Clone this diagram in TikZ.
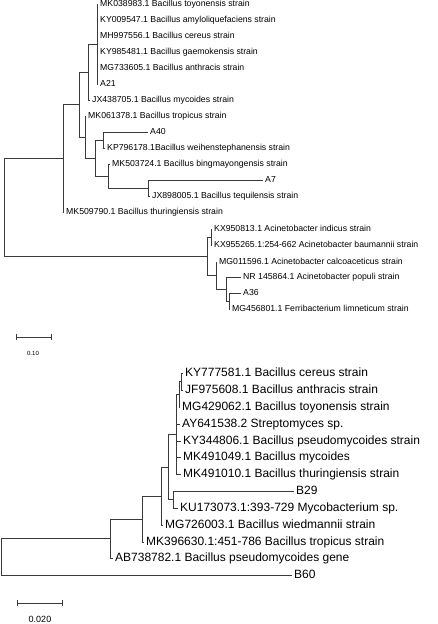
\documentclass[tikz,border=0pt]{standalone}
\usepackage{fontspec}
\setmainfont{Liberation Sans}
\usetikzlibrary{arrows.meta}
\definecolor{treeline}{HTML}{3A3A3A}
\tikzset{
  branch/.style={draw=treeline,line width=0.6pt},
  taxon/.style={anchor=west,inner xsep=2pt,inner ysep=0pt,text height=6.3pt,
    text depth=1.8pt,font=\fontsize{8.7}{10}\selectfont},
  bigtaxon/.style={anchor=west,inner xsep=2pt,inner ysep=0pt,text height=8.7pt,
    text depth=2.5pt,font=\fontsize{12}{14}\selectfont},
  scalebar/.style={{Bar[width=6pt]}-{Bar[width=6pt]},draw=treeline,line width=0.6pt},
}
\begin{document}
\begin{tikzpicture}[x=1pt,y=-1pt]
  \useasboundingbox (0,0) rectangle (438,624);
  % upper tree
  \node[taxon] (t1) at (98,4) {MK038983.1 Bacillus toyonensis strain};
  \node[taxon] (t2) at (98,20) {KY009547.1 Bacillus amyloliquefaciens strain};
  \node[taxon] (t3) at (98,36) {MH997556.1 Bacillus cereus strain};
  \node[taxon] (t4) at (98,52) {KY985481.1 Bacillus gaemokensis strain};
  \node[taxon] (t5) at (98,68) {MG733605.1 Bacillus anthracis strain};
  \node[taxon] (t6) at (98,84) {A21};
  \node[taxon] (t7) at (90,100) {JX438705.1 Bacillus mycoides strain};
  \node[taxon] (t8) at (86,116) {MK061378.1 Bacillus tropicus strain};
  \node[taxon] (t9) at (148,132) {A40};
  \node[taxon] (t10) at (105,148) {KP796178.1Bacillus weihenstephanensis strain};
  \node[taxon] (t11) at (110,164) {MK503724.1 Bacillus bingmayongensis strain};
  \node[taxon] (t12) at (263,180) {A7};
  \node[taxon] (t13) at (150,196) {JX898005.1 Bacillus tequilensis strain};
  \node[taxon] (t14) at (64,212) {MK509790.1 Bacillus thuringiensis strain};
  \node[taxon] (t15) at (212,229) {KX950813.1 Acinetobacter indicus strain};
  \node[taxon] (t16) at (212,245) {KX955265.1:254-662 Acinetobacter baumannii strain};
  \node[taxon] (t17) at (217,262) {MG011596.1 Acinetobacter calcoaceticus strain};
  \node[taxon] (t18) at (241,277) {NR 145864.1 Acinetobacter populi strain};
  \node[taxon] (t19) at (241,293) {A36};
  \node[taxon] (t20) at (230,309) {MG456801.1 Ferribacterium limneticum strain};

  \coordinate (r1) at (4,207.25);
  \coordinate (c1) at (63,158.25);
  \coordinate (c8) at (79,104.5);
  \coordinate (c7) at (88,72);
  \coordinate (c6) at (97,44);
  \coordinate (c9) at (85,137);
  \coordinate (c11) at (95,158);
  \coordinate (c10) at (103,140);
  \coordinate (c12) at (108,176);
  \coordinate (c13) at (148,188);
  \coordinate (a1) at (207,256.25);
  \coordinate (a2) at (211,237);
  \coordinate (a3) at (216,275.5);
  \coordinate (a4) at (226,289);
  \coordinate (a5) at (229,301);

  \draw[branch] (r1) |- (c1) (r1) |- (a1);
  \draw[branch] (c1) |- (c8) (c1) |- (t14.west);
  \draw[branch] (c8) |- (c7) (c8) |- (c9);
  \draw[branch] (c7) |- (c6) (c7) |- (t7.west);
  \draw[branch] (c6) |- (t1.west) (c6) |- (t2.west) (c6) |- (t3.west)
    (c6) |- (t4.west) (c6) |- (t5.west) (c6) |- (t6.west);
  \draw[branch] (c9) |- (t8.west) (c9) |- (c11);
  \draw[branch] (c11) |- (c10) (c11) |- (c12);
  \draw[branch] (c10) |- (t9.west) (c10) |- (t10.west);
  \draw[branch] (c12) |- (t11.west) (c12) |- (c13);
  \draw[branch] (c13) |- (t12.west) (c13) |- (t13.west);
  \draw[branch] (a1) |- (a2) (a1) |- (a3);
  \draw[branch] (a2) |- (t15.west) (a2) |- (t16.west);
  \draw[branch] (a3) |- (t17.west) (a3) |- (a4);
  \draw[branch] (a4) |- (t18.west) (a4) |- (a5);
  \draw[branch] (a5) |- (t19.west) (a5) |- (t20.west);

  \coordinate (s1a) at (16,337);
  \coordinate (s1b) at (52,337);
  \draw[scalebar] (s1a) -- (s1b);
  \node[font=\fontsize{6}{7}\selectfont,inner sep=0pt] (s1l) at (33,353) {0.10};

  % lower tree
  \node[bigtaxon] (u1) at (183,373) {KY777581.1 Bacillus cereus strain};
  \node[bigtaxon] (u2) at (183,390) {JF975608.1 Bacillus anthracis strain};
  \node[bigtaxon] (u3) at (180,407) {MG429062.1 Bacillus toyonensis strain};
  \node[bigtaxon] (u4) at (180,424) {AY641538.2 Streptomyces sp.};
  \node[bigtaxon] (u5) at (181,441) {KY344806.1 Bacillus pseudomycoides strain};
  \node[bigtaxon] (u6) at (181,457) {MK491049.1 Bacillus mycoides};
  \node[bigtaxon] (u7) at (181,474) {MK491010.1 Bacillus thuringiensis strain};
  \node[bigtaxon] (u8) at (294,491) {B29};
  \node[bigtaxon] (u9) at (178,508) {KU173073.1:393-729 Mycobacterium sp.};
  \node[bigtaxon] (u10) at (163,525) {MG726003.1 Bacillus wiedmannii strain};
  \node[bigtaxon] (u11) at (144,542) {MK396630.1:451-786 Bacillus tropicus strain};
  \node[bigtaxon] (u12) at (113,558) {AB738782.1 Bacillus pseudomycoides gene};
  \node[bigtaxon] (u13) at (292,575) {B60};

  \coordinate (r2) at (1,556.75);
  \coordinate (b8) at (110,538.5);
  \coordinate (b7) at (142,518.95);
  \coordinate (b6) at (161,495.9);
  \coordinate (b4) at (168,466.8);
  \coordinate (b5) at (173,499.5);
  \coordinate (b3) at (176,434.1);
  \coordinate (b2) at (179,394.25);
  \coordinate (b1) at (181,381.5);

  \draw[branch] (r2) |- (b8) (r2) |- (u13.west);
  \draw[branch] (b8) |- (b7) (b8) |- (u12.west);
  \draw[branch] (b7) |- (b6) (b7) |- (u11.west);
  \draw[branch] (b6) |- (b4) (b6) |- (u10.west);
  \draw[branch] (b4) |- (b3) (b4) |- (b5);
  \draw[branch] (b5) |- (u8.west) (b5) |- (u9.west);
  \draw[branch] (b3) |- (b2) (b3) |- (u4.west) (b3) |- (u5.west)
    (b3) |- (u6.west) (b3) |- (u7.west);
  \draw[branch] (b2) |- (b1) (b2) |- (u3.west);
  \draw[branch] (b1) |- (u1.west) (b1) |- (u2.west);

  \coordinate (s2a) at (17,603);
  \coordinate (s2b) at (63,603);
  \draw[scalebar] (s2a) -- (s2b);
  \node[font=\fontsize{9}{10}\selectfont,inner sep=0pt] (s2l) at (40,619) {0.020};
\end{tikzpicture}
\end{document}
